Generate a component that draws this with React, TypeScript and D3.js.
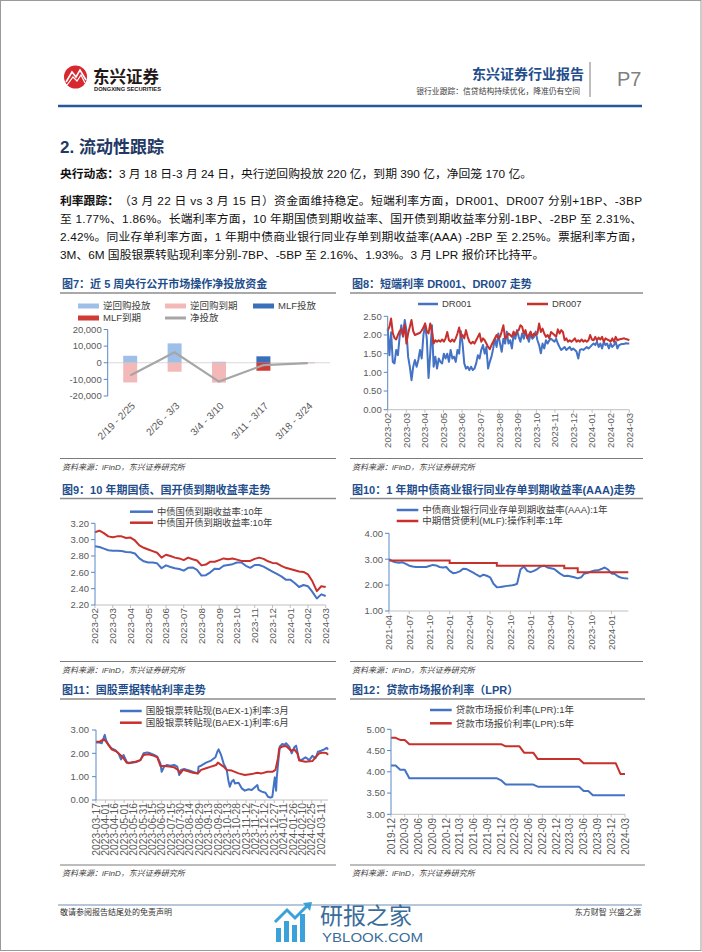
import React from "react";
import * as d3 from "d3";

const FONT = "'Liberation Sans','Noto Sans CJK SC',Arial,sans-serif";
const BLUE = "#4472c4";
const RED = "#c8302c";
const AXIS_BLUE = "#5b87c6";
const TICK = "#595959";
const TITLE_BLUE = "#1f4e8c";

// ---------- Chart 7: weekly open market operations (亿元)
const weekCats = ["2/19 - 2/25", "2/26 - 3/3", "3/4 - 3/10", "3/11 - 3/17", "3/18 - 3/24"];
const repoInject = [4190, 11650, 600, 100, 220];
const repoMature = [-11850, -5400, -11950, -600, -390];
const mlfInject = [0, 0, 0, 3870, 0];
const mlfMature = [0, 0, 0, -4810, 0];
const netInject = [-7660, 6250, -11350, -1440, -170];
const ticks7 = [-20000, -10000, 0, 10000, 20000];

// ---------- Chart 8: DR001 / DR007 (11 samples per month, 2023-02 .. 2024-02)
const monthLabels13 = ["2023-02", "2023-03", "2023-04", "2023-05", "2023-06", "2023-07", "2023-08", "2023-09", "2023-10", "2023-11", "2023-12", "2024-01", "2024-02", "2024-03"];
const dr001 = [
  2.17, 1.46, 2.07, 1.28, 1.24, 1.6, 1.46, 1.95, 2.26, 1.95, 2.4,
  2.13, 1.42, 1.15, 0.79, 1.15, 1.33, 1.15, 1.33, 1.6, 1.37, 2.0,
  2.26, 1.9, 0.85, 1.5, 2.26, 1.15, 1.42, 1.1, 1.37, 1.28, 1.24,
  1.5, 1.37, 1.5, 1.28, 1.6, 1.37, 1.42, 1.28, 1.6, 1.5, 2.1,
  1.77, 1.24, 1.1, 1.15, 1.06, 1.15, 1.06, 1.1, 1.24, 1.46, 1.37,
  1.6, 1.73, 1.5, 1.68, 1.1, 1.28, 1.42, 1.64, 1.9, 1.68, 2.04,
  1.77, 1.55, 1.9, 1.77, 2.09, 1.77, 1.86, 1.64, 2.0, 1.9, 2.13,
  1.95, 1.82, 2.04, 1.9, 2.09, 1.95, 1.82, 2.04, 1.9, 1.95, 2.09,
  1.86, 1.73, 1.51, 1.77, 1.64, 1.86, 1.77, 1.86, 1.9, 1.86, 1.82,
  1.9, 1.77, 1.68, 1.6, 1.64, 1.68, 1.6, 1.64, 1.68, 1.6, 1.64,
  1.6, 1.55, 1.37, 1.6, 1.62, 1.6, 1.64, 1.68, 1.64, 1.68, 1.73,
  1.77, 1.73, 1.82, 1.68, 1.77, 1.64, 1.82, 1.73, 1.77, 1.64, 1.77,
  1.68, 1.73, 1.82, 1.64, 1.73, 1.75, 1.76, 1.76, 1.78, 1.77, 1.77,
];
const dr007 = [
  2.12, 2.22, 2.44, 2.05, 1.92, 1.88, 2.0, 2.1, 2.15, 1.98, 2.28,
  1.77, 2.04, 2.22, 2.4, 2.1, 2.0, 2.02, 2.04, 2.06, 2.12, 2.2,
  2.31, 2.1, 2.04, 2.31, 2.1, 1.77, 1.86, 1.82, 1.86, 1.82, 1.88,
  1.82, 1.91, 2.08, 1.86, 1.82, 1.88, 1.82, 1.91, 2.04, 2.2, 1.95,
  2.0, 1.91, 2.13, 1.95, 1.82, 1.77, 1.82, 1.77, 1.86, 1.95, 2.04,
  1.82, 1.91, 1.86, 1.77, 1.68, 1.62, 1.73, 1.82, 1.91, 2.0, 1.91,
  1.95, 2.09, 2.26, 1.91, 1.95, 2.04, 2.0, 1.95, 2.09, 2.0, 2.09,
  2.13, 2.26, 2.22, 2.04, 2.13, 1.91, 2.0, 2.09, 1.95, 2.04, 2.0,
  2.04, 2.31, 2.08, 2.17, 2.04, 1.95, 2.0, 1.91, 2.08, 2.04, 2.0,
  1.95, 2.15, 2.04, 2.13, 2.08, 1.86, 1.91, 1.82, 1.86, 1.82, 1.86,
  1.91, 1.82, 1.86, 1.82, 1.88, 1.82, 1.86, 1.82, 1.86, 2.0, 1.88,
  1.86, 1.95, 1.86, 1.93, 1.88, 1.95, 1.82, 1.91, 1.88, 1.86, 1.82,
  1.91, 1.82, 1.95, 1.86, 1.88, 1.89, 1.9, 1.91, 1.89, 1.88, 1.86,
];
const ticks8 = [0, 0.5, 1, 1.5, 2, 2.5];

// ---------- Chart 9: 10Y yields (weekly samples)
const gov10y = [2.92, 2.91, 2.89, 2.87, 2.865, 2.865, 2.86, 2.85, 2.845, 2.83, 2.77, 2.735, 2.72, 2.72, 2.71, 2.65, 2.685, 2.665, 2.65, 2.64, 2.62, 2.655, 2.66, 2.63, 2.56, 2.565, 2.6, 2.645, 2.64, 2.68, 2.69, 2.7, 2.72, 2.72, 2.68, 2.655, 2.69, 2.69, 2.67, 2.64, 2.61, 2.58, 2.55, 2.51, 2.51, 2.47, 2.42, 2.445, 2.43, 2.36, 2.28, 2.33, 2.31];
const cdb10y = [3.09, 3.11, 3.08, 3.04, 3.03, 3.04, 3.04, 3.02, 3.025, 2.99, 2.93, 2.9, 2.88, 2.86, 2.84, 2.78, 2.815, 2.8, 2.78, 2.77, 2.75, 2.78, 2.76, 2.745, 2.685, 2.695, 2.73, 2.73, 2.75, 2.77, 2.76, 2.77, 2.755, 2.74, 2.74, 2.74, 2.765, 2.78, 2.765, 2.735, 2.715, 2.71, 2.68, 2.655, 2.64, 2.625, 2.61, 2.605, 2.575, 2.49, 2.37, 2.43, 2.42];
const ticks9 = [2.2, 2.4, 2.6, 2.8, 3.0, 3.2];

// ---------- Chart 10: NCD AAA 1Y (half-month samples from 2021-04) and MLF rate changes
const ncdAAA = [3.0, 2.92, 2.88, 2.86, 2.88, 2.82, 2.75, 2.72, 2.7, 2.7, 2.7, 2.7, 2.74, 2.78, 2.76, 2.7, 2.68, 2.7, 2.55, 2.46, 2.48, 2.53, 2.63, 2.62, 2.55, 2.48, 2.4, 2.33, 2.4, 2.36, 2.3, 2.05, 1.92, 1.93, 1.95, 1.97, 1.98, 2.0, 2.05, 2.6, 2.72, 2.55, 2.5, 2.55, 2.62, 2.72, 2.75, 2.68, 2.65, 2.62, 2.52, 2.42, 2.35, 2.36, 2.33, 2.3, 2.26, 2.3, 2.45, 2.47, 2.53, 2.56, 2.57, 2.62, 2.68, 2.6, 2.45, 2.43, 2.33, 2.28, 2.26, 2.25];
const mlfChanges = [
  { m: "2021-04", v: 2.95 },
  { m: "2022-01", v: 2.85 },
  { m: "2022-08", v: 2.75 },
  { m: "2023-06", v: 2.65 },
  { m: "2023-08", v: 2.5 },
];
const quarterLabels10 = ["2021-04", "2021-07", "2021-10", "2022-01", "2022-04", "2022-07", "2022-10", "2023-01", "2023-04", "2023-07", "2023-10", "2024-01"];
const ticks10 = [1, 2, 3, 4];

// ---------- Chart 11: BAEX-1 bill rediscount rates
const bill3m = [
  ["2023-03-17", 2.46], ["2023-03-23", 2.46], ["2023-03-26", 2.43], ["2023-03-29", 2.64], ["2023-03-31", 2.79], ["2023-04-02", 2.57], ["2023-04-06", 2.36], ["2023-04-11", 2.21], ["2023-04-17", 2.14], ["2023-04-22", 2.0], ["2023-04-26", 1.74], ["2023-04-30", 1.93], ["2023-05-05", 1.64], ["2023-05-08", 1.57], ["2023-05-16", 1.61], ["2023-05-22", 1.64], ["2023-05-27", 1.71], ["2023-06-01", 2.0], ["2023-06-07", 2.04], ["2023-06-12", 2.0], ["2023-06-18", 1.93], ["2023-06-23", 1.86], ["2023-06-28", 1.57], ["2023-06-30", 1.21], ["2023-07-04", 1.43], ["2023-07-08", 1.5], ["2023-07-14", 1.47], ["2023-07-20", 1.5], ["2023-07-25", 1.43], ["2023-07-28", 1.07], ["2023-07-31", 1.29], ["2023-08-05", 1.33], ["2023-08-10", 1.29], ["2023-08-16", 1.24], ["2023-08-21", 1.19], ["2023-08-27", 1.14], ["2023-08-28", 1.43], ["2023-09-01", 1.47], ["2023-09-09", 1.6], ["2023-09-17", 1.69], ["2023-09-24", 1.83], ["2023-09-27", 2.07], ["2023-09-29", 2.17], ["2023-10-03", 1.93], ["2023-10-07", 1.57], ["2023-10-12", 1.29], ["2023-10-15", 0.79], ["2023-10-17", 0.57], ["2023-10-20", 0.79], ["2023-10-23", 0.86], ["2023-10-25", 0.71], ["2023-10-31", 0.74], ["2023-11-05", 0.5], ["2023-11-10", 0.4], ["2023-11-16", 0.46], ["2023-11-21", 0.43], ["2023-11-27", 0.57], ["2023-11-30", 0.64], ["2023-12-02", 0.43], ["2023-12-07", 0.36], ["2023-12-13", 0.31], ["2023-12-17", 0.14], ["2023-12-21", 0.1], ["2023-12-24", 0.14], ["2023-12-27", 0.79], ["2023-12-28", 0.97], ["2023-12-30", 0.4], ["2023-12-31", 0.93], ["2024-01-03", 1.79], ["2024-01-05", 2.29], ["2024-01-09", 2.4], ["2024-01-12", 2.36], ["2024-01-15", 2.43], ["2024-01-20", 2.29], ["2024-01-24", 2.0], ["2024-01-28", 2.26], ["2024-01-31", 2.33], ["2024-02-02", 2.07], ["2024-02-05", 1.71], ["2024-02-10", 1.74], ["2024-02-15", 1.83], ["2024-02-21", 1.71], ["2024-02-26", 1.89], ["2024-03-02", 1.79], ["2024-03-06", 2.07], ["2024-03-11", 2.11], ["2024-03-16", 2.17], ["2024-03-20", 2.24], ["2024-03-22", 2.16],
];
const bill6m = [
  ["2023-03-17", 2.5], ["2023-03-23", 2.5], ["2023-03-29", 2.6], ["2023-04-01", 2.54], ["2023-04-06", 2.36], ["2023-04-11", 2.17], ["2023-04-19", 2.07], ["2023-04-25", 1.93], ["2023-04-30", 1.79], ["2023-05-05", 1.6], ["2023-05-11", 1.61], ["2023-05-19", 1.64], ["2023-05-27", 1.71], ["2023-06-01", 1.93], ["2023-06-09", 1.96], ["2023-06-18", 1.89], ["2023-06-23", 1.83], ["2023-06-28", 1.46], ["2023-07-04", 1.46], ["2023-07-12", 1.43], ["2023-07-20", 1.4], ["2023-07-26", 1.29], ["2023-07-30", 1.14], ["2023-08-03", 1.29], ["2023-08-10", 1.24], ["2023-08-19", 1.17], ["2023-08-27", 1.14], ["2023-09-01", 1.29], ["2023-09-09", 1.36], ["2023-09-17", 1.43], ["2023-09-25", 1.5], ["2023-09-28", 1.6], ["2023-10-07", 1.43], ["2023-10-12", 1.29], ["2023-10-20", 1.26], ["2023-10-31", 1.14], ["2023-11-10", 1.07], ["2023-11-21", 1.11], ["2023-11-30", 1.17], ["2023-12-07", 1.14], ["2023-12-16", 1.21], ["2023-12-24", 1.21], ["2023-12-29", 1.29], ["2024-01-02", 1.79], ["2024-01-04", 2.21], ["2024-01-09", 2.29], ["2024-01-15", 2.31], ["2024-01-23", 2.11], ["2024-01-28", 2.17], ["2024-02-02", 2.0], ["2024-02-05", 1.69], ["2024-02-15", 1.64], ["2024-02-26", 1.67], ["2024-03-03", 1.86], ["2024-03-08", 2.0], ["2024-03-16", 2.03], ["2024-03-20", 2.0], ["2024-03-22", 1.93],
];
const dayLabels11 = ["2023-03-17", "2023-04-01", "2023-04-16", "2023-05-01", "2023-05-16", "2023-05-31", "2023-06-15", "2023-06-30", "2023-07-15", "2023-07-30", "2023-08-14", "2023-08-29", "2023-09-13", "2023-09-28", "2023-10-13", "2023-10-28", "2023-11-12", "2023-11-27", "2023-12-12", "2023-12-27", "2024-01-11", "2024-01-26", "2024-02-10", "2024-02-25", "2024-03-11"];
const ticks11 = [0, 1, 2, 3];

// ---------- Chart 12: LPR monthly 2019-12 .. 2024-03
const lpr1y = [4.15, 4.15, 4.05, 4.05, 3.85, 3.85, 3.85, 3.85, 3.85, 3.85, 3.85, 3.85, 3.85, 3.85, 3.85, 3.85, 3.85, 3.85, 3.85, 3.85, 3.85, 3.85, 3.85, 3.85, 3.8, 3.7, 3.7, 3.7, 3.7, 3.7, 3.7, 3.7, 3.65, 3.65, 3.65, 3.65, 3.65, 3.65, 3.65, 3.65, 3.65, 3.65, 3.55, 3.55, 3.45, 3.45, 3.45, 3.45, 3.45, 3.45, 3.45, 3.45];
const lpr5y = [4.8, 4.8, 4.75, 4.75, 4.65, 4.65, 4.65, 4.65, 4.65, 4.65, 4.65, 4.65, 4.65, 4.65, 4.65, 4.65, 4.65, 4.65, 4.65, 4.65, 4.65, 4.65, 4.65, 4.65, 4.65, 4.6, 4.6, 4.6, 4.6, 4.45, 4.45, 4.45, 4.3, 4.3, 4.3, 4.3, 4.3, 4.3, 4.3, 4.3, 4.3, 4.3, 4.2, 4.2, 4.2, 4.2, 4.2, 4.2, 4.2, 4.2, 3.95, 3.95];
const quarterLabels12 = ["2019-12", "2020-03", "2020-06", "2020-09", "2020-12", "2021-03", "2021-06", "2021-09", "2021-12", "2022-03", "2022-06", "2022-09", "2022-12", "2023-03", "2023-06", "2023-09", "2023-12", "2024-03"];
const ticks12 = [3, 3.5, 4, 4.5, 5];

// ---------- helpers
const loc = d3.formatLocale({ decimal: ".", thousands: ",", grouping: [3], currency: ["", ""], minus: "-" });
const fmtComma = loc.format(",");
const fmt2 = loc.format(".2f");
const parseDay = d3.timeParse("%Y-%m-%d");
const monthIndex = (s: string) => {
  const [y, m] = s.split("-").map(Number);
  return y * 12 + (m - 1);
};

function YAxis({ x, y, ticks, fmt, fs = 9.5, off = 6 }: any) {
  const [r0, r1] = y.range();
  return (
    <g>
      <line x1={x} x2={x} y1={r0} y2={r1} stroke={AXIS_BLUE} strokeWidth={1} />
      {ticks.map((t: number) => (
        <g key={t}>
          <line x1={x - 4} x2={x} y1={y(t)} y2={y(t)} stroke={AXIS_BLUE} strokeWidth={1} />
          <text x={x - off} y={y(t)} dy="0.35em" textAnchor="end" fontSize={fs} fill={TICK}>{fmt(t)}</text>
        </g>
      ))}
    </g>
  );
}

function XAxisBottom({ x0, x1, y, xs }: any) {
  return (
    <g>
      <line x1={x0} x2={x1} y1={y} y2={y} stroke="#bfbfbf" strokeWidth={1} />
      {xs.map((xx: number, i: number) => (
        <line key={i} x1={xx} x2={xx} y1={y} y2={y + 3} stroke="#bfbfbf" strokeWidth={1} />
      ))}
    </g>
  );
}

function RotLabels({ xs, labels, y, fs, rot = -90, dx = 0 }: any) {
  return (
    <g>
      {labels.map((l: string, i: number) => (
        <text key={i} transform={`translate(${xs[i] + dx},${y}) rotate(${rot})`} textAnchor="end" dy="0.35em" fontSize={fs} fill={TICK}>{l}</text>
      ))}
    </g>
  );
}

function LegLine({ x, y, color, label, w = 21.5, sw = 2.5, fs = 9.5 }: any) {
  return (
    <g>
      <line x1={x} x2={x + w} y1={y} y2={y} stroke={color} strokeWidth={sw} />
      <text x={x + w + 4} y={y} dy="0.35em" fontSize={fs} fill="#404040">{label}</text>
    </g>
  );
}

function LegRect({ x, y, color, label, fs = 9.5 }: any) {
  return (
    <g>
      <rect x={x} y={y - 2.5} width={21} height={5} fill={color} />
      <text x={x + 25} y={y} dy="0.35em" fontSize={fs} fill="#404040">{label}</text>
    </g>
  );
}

function Panel({ x0, x1, titleY, title, srcY }: any) {
  return (
    <g>
      <text x={x0 + 2} y={titleY} fontSize={11} fontWeight="bold" fill={TITLE_BLUE}>{title}</text>
      <line x1={x0} x2={x1} y1={titleY + 5} y2={titleY + 5} stroke="#8c8c8c" strokeWidth={1.5} />
      <line x1={x0} x2={x1} y1={srcY} y2={srcY} stroke="#595959" strokeWidth={0.8} />
      <text x={x0 + 2} y={srcY + 11} fontSize={8} fontStyle="italic" fill="#404040">资料来源：iFinD，东兴证券研究所</text>
    </g>
  );
}

function Chart7() {
  const y = d3.scaleLinear().domain([-20000, 20000]).range([396, 329.5]);
  const x = d3.scaleBand().domain(weekCats).range([108, 330]).paddingInner(0.685).paddingOuter(0.3425);
  const bw = x.bandwidth();
  const cx = (i: number) => (x(weekCats[i]) as number) + bw / 2;
  const bars = (vals: number[], color: string) =>
    vals.map((v, i) => (
      <rect key={i} x={x(weekCats[i])} y={Math.min(y(0), y(v))} width={bw} height={Math.abs(y(v) - y(0))} fill={color} />
    ));
  const line = d3.line<number>().x((_, i) => cx(i)).y((v) => y(v));
  return (
    <g>
      <Panel x0={60} x1={336} titleY={288} title="图7：近 5 周央行公开市场操作净投放资金" srcY={458.5} />
      <LegRect x={78} y={306} color="#9dbfe8" label="逆回购投放" />
      <LegRect x={165} y={306} color="#f3b9b9" label="逆回购到期" />
      <LegRect x={253} y={306} color="#3b6fba" label="MLF投放" />
      <LegRect x={78} y={318} color="#d13b35" label="MLF到期" />
      <LegLine x={165} y={318} color="#a6a6a6" label="净投放" w={21} sw={3} />
      <line x1={108} x2={330} y1={y(0)} y2={y(0)} stroke="#d9d9d9" strokeWidth={1} />
      {bars(repoInject, "#9dbfe8")}
      {bars(repoMature, "#f3b9b9")}
      {bars(mlfInject, "#3b6fba")}
      {bars(mlfMature, "#d13b35")}
      <path d={line(netInject) as string} fill="none" stroke="#a6a6a6" strokeWidth={2.2} />
      <YAxis x={107.7} y={y} ticks={ticks7} fmt={fmtComma} fs={9.5} />
      <RotLabels xs={weekCats.map((_, i) => cx(i))} labels={weekCats} y={404} fs={10} rot={-45} dx={3} />
    </g>
  );
}

function IndexLineChart({ x0, x1, yTop, yBot, domainY, ticks, series, labels, labelFs, yAxisX, labelTop }: any) {
  const y = d3.scaleLinear().domain(domainY).range([yBot, yTop]);
  const n = series[0].values.length;
  const x = d3.scaleLinear().domain([0, n - 1]).range([x0, x1]);
  const line = d3.line<number>().x((_, i) => x(i)).y((v) => y(v));
  const lx = labels.map((_: string, k: number) => x((k * (n - 1)) / (labels.length - 1)));
  return (
    <g>
      <XAxisBottom x0={x0} x1={x1} y={yBot} xs={lx} />
      {series.map((s: any, i: number) => (
        <path key={i} d={line(s.values) as string} fill="none" stroke={s.color} strokeWidth={2} strokeLinejoin="round" />
      ))}
      <YAxis x={yAxisX} y={y} ticks={ticks} fmt={fmt2} />
      <RotLabels xs={lx} labels={labels} y={labelTop} fs={labelFs} />
    </g>
  );
}

function Chart8() {
  return (
    <g>
      <Panel x0={350} x1={643} titleY={288} title="图8：短端利率 DR001、DR007 走势" srcY={458.5} />
      <LegLine x={418} y={304} color={BLUE} label="DR001" w={20} />
      <LegLine x={527} y={304} color={RED} label="DR007" w={21} />
      <IndexLineChart x0={387.7} x1={629.3} yTop={316.3} yBot={409.7} domainY={[0, 2.5]} ticks={ticks8}
        series={[{ values: dr001, color: BLUE }, { values: dr007, color: RED }]}
        labels={monthLabels13} labelFs={9.5} yAxisX={387.7} labelTop={413} />
    </g>
  );
}

function Chart9() {
  return (
    <g>
      <Panel x0={60} x1={336} titleY={493.5} title="图9：10 年期国债、国开债到期收益率走势" srcY={661.5} />
      <LegLine x={130} y={511.7} color={BLUE} label="中债国债到期收益率:10年" w={23} fs={9.3} />
      <LegLine x={130} y={522.7} color={RED} label="中债国开债到期收益率:10年" w={23} fs={9.3} />
      <IndexLineChart x0={95} x1={325.7} yTop={523.3} yBot={605} domainY={[2.2, 3.2]} ticks={ticks9}
        series={[{ values: gov10y, color: BLUE }, { values: cdb10y, color: RED }]}
        labels={monthLabels13} labelFs={9.8} yAxisX={95} labelTop={608} />
    </g>
  );
}

function Chart10() {
  const y = d3.scaleLinear().domain([1, 4]).range([611, 533.3]);
  const endM = (ncdAAA.length - 1) / 2;
  const x = d3.scaleLinear().domain([0, endM]).range([389, 628.3]);
  const base = monthIndex(quarterLabels10[0]);
  const ncdLine = d3.line<number>().x((_, i) => x(i / 2)).y((v) => y(v));
  const mlfPts = [...mlfChanges.map((c) => [monthIndex(c.m) - base, c.v]), [endM, mlfChanges[mlfChanges.length - 1].v]];
  const mlfLine = d3.line<any>().x((d) => x(d[0])).y((d) => y(d[1])).curve(d3.curveStepAfter);
  const lx = quarterLabels10.map((q) => x(monthIndex(q) - base));
  return (
    <g>
      <Panel x0={350} x1={643} titleY={493.5} title="图10：1 年期中债商业银行同业存单到期收益率(AAA)走势" srcY={661.5} />
      <LegLine x={396.7} y={510} color={BLUE} label="中债商业银行同业存单到期收益率(AAA):1年" w={21.6} />
      <LegLine x={396.7} y={521} color={RED} label="中期借贷便利(MLF):操作利率:1年" w={21.6} />
      <XAxisBottom x0={389} x1={628.3} y={611} xs={lx} />
      <path d={ncdLine(ncdAAA) as string} fill="none" stroke={BLUE} strokeWidth={2} strokeLinejoin="round" />
      <path d={mlfLine(mlfPts) as string} fill="none" stroke={RED} strokeWidth={2} />
      <YAxis x={389} y={y} ticks={ticks10} fmt={fmt2} />
      <RotLabels xs={lx} labels={quarterLabels10} y={615} fs={9.5} />
    </g>
  );
}

function Chart11() {
  const y = d3.scaleLinear().domain([0, 3]).range([800, 730]);
  const x = d3.scaleTime().domain([parseDay("2023-03-17") as Date, parseDay("2024-03-22") as Date]).range([96, 328]);
  const line = d3.line<any>().x((d) => x(parseDay(d[0]) as Date)).y((d) => y(d[1]));
  const lx = dayLabels11.map((d) => x(parseDay(d) as Date));
  return (
    <g>
      <Panel x0={60} x1={336} titleY={694} title="图11：国股票据转帖利率走势" srcY={865} />
      <LegLine x={120} y={711} color={BLUE} label="国股银票转贴现(BAEX-1)利率:3月" w={21.7} />
      <LegLine x={120} y={722.7} color={RED} label="国股银票转贴现(BAEX-1)利率:6月" w={21.7} />
      <XAxisBottom x0={96} x1={328} y={800} xs={lx} />
      <path d={line(bill3m) as string} fill="none" stroke={BLUE} strokeWidth={2} strokeLinejoin="round" />
      <path d={line(bill6m) as string} fill="none" stroke={RED} strokeWidth={2} strokeLinejoin="round" />
      <YAxis x={96} y={y} ticks={ticks11} fmt={fmt2} off={7} />
      <RotLabels xs={lx} labels={dayLabels11} y={803} fs={10.3} />
    </g>
  );
}

function Chart12() {
  return (
    <g>
      <Panel x0={350} x1={645} titleY={694} title="图12：贷款市场报价利率（LPR）" srcY={865} />
      <LegLine x={430} y={710} color={BLUE} label="贷款市场报价利率(LPR):1年" w={21.7} />
      <LegLine x={430} y={723.3} color={RED} label="贷款市场报价利率(LPR):5年" w={21.7} />
      <IndexLineChart x0={391} x1={625} yTop={729.3} yBot={814.3} domainY={[3, 5]} ticks={ticks12}
        series={[{ values: lpr1y, color: BLUE }, { values: lpr5y, color: RED }]}
        labels={quarterLabels12} labelFs={10} yAxisX={391} labelTop={818} />
    </g>
  );
}

function Header() {
  return (
    <g>
      <circle cx={75.5} cy={77} r={11.5} fill="#d7282f" />
      <path d="M66,82 L72,72 L76,77 L80,70 L86,80" fill="none" stroke="#fff" strokeWidth={1.6} />
      <path d="M67,85 L73,77 L77,81 L81,75 L85,83" fill="none" stroke="#fff" strokeWidth={1.2} />
      <text x={93} y={82.5} fontSize={16.5} fontWeight="bold" fill="#231815">东兴证券</text>
      <text x={94} y={90.5} fontSize={5.2} fontWeight="bold" fill="#231815" textLength={67} lengthAdjust="spacingAndGlyphs">DONGXING SECURITIES</text>
      <text x={584} y={79} textAnchor="end" fontSize={14} fontWeight="bold" fill={TITLE_BLUE}>东兴证券行业报告</text>
      <text x={580} y={93.5} textAnchor="end" fontSize={7.8} fill="#404040">银行业跟踪：信贷结构持续优化，降准仍有空间</text>
      <line x1={590} x2={590} y1={62} y2={97} stroke="#7f7f7f" strokeWidth={1} />
      <text x={617} y={85.5} fontSize={20} fill="#808080">P7</text>
      <line x1={58} x2={642} y1={106} y2={106} stroke="#23599a" strokeWidth={2.5} />
    </g>
  );
}

function Body() {
  const fs = 11.8;
  return (
    <g fill="#111">
      <text x={60} y={153} fontSize={17} fontWeight="bold" fill="#1f3864">2.  流动性跟踪</text>
      <text x={60} y={177.5} fontSize={fs} fontWeight="bold">央行动态：</text>
      <text x={60 + fs * 5} y={177.5} fontSize={fs}>3 月 18 日-3 月 24 日，央行逆回购投放 220 亿，到期 390 亿，净回笼 170 亿。</text>
      <text x={60} y={204.5} fontSize={fs} fontWeight="bold">利率跟踪：</text>
      <text x={60 + fs * 5} y={204.5} fontSize={fs} textLength={582 - fs * 5} lengthAdjust="spacing">（3 月 22 日 vs 3 月 15 日）资金面维持稳定。短端利率方面，DR001、DR007 分别+1BP、-3BP</text>
      <text x={60} y={222.7} fontSize={fs} textLength={582} lengthAdjust="spacing">至 1.77%、1.86%。长端利率方面，10 年期国债到期收益率、国开债到期收益率分别-1BP、-2BP 至 2.31%、</text>
      <text x={60} y={240.9} fontSize={fs} textLength={582} lengthAdjust="spacing">2.42%。同业存单利率方面，1 年期中债商业银行同业存单到期收益率(AAA) -2BP 至 2.25%。票据利率方面，</text>
      <text x={60} y={259.1} fontSize={fs}>3M、6M 国股银票转贴现利率分别-7BP、-5BP 至 2.16%、1.93%。3 月 LPR 报价环比持平。</text>
    </g>
  );
}

function Footer() {
  return (
    <g>
      <line x1={58} x2={642} y1={905} y2={905} stroke="#6f8fb3" strokeWidth={1} />
      <text x={60} y={915} fontSize={8} fill="#333">敬请参阅报告结尾处的免责声明</text>
      <text x={641} y={915} fontSize={8} textAnchor="end" fill="#333">东方财智 兴盛之源</text>
      <g opacity={0.92}>
        <rect x={276} y={928} width={5} height={14} fill="#2a9ad8" />
        <rect x={284} y={921} width={5} height={21} fill="#2a9ad8" />
        <rect x={292} y={925} width={5} height={17} fill="#2a9ad8" />
        <rect x={300} y={914} width={5} height={28} fill="#2a9ad8" />
        <path d="M275,922 L287,910 L295,918 L309,904" fill="none" stroke="#2a9ad8" strokeWidth={3} />
        <path d="M303,903 L312,902 L310,911 Z" fill="#2a9ad8" />
        <text x={320} y={923.5} fontSize={23} fill="#2b5f93">研报之家</text>
        <text x={322} y={942} fontSize={13.5} fill="#2b5f93" textLength={101} lengthAdjust="spacingAndGlyphs">YBLOOK.COM</text>
      </g>
    </g>
  );
}

export default function App() {
  return (
    <svg width={702} height={952} viewBox="0 0 702 952" style={{ position: "absolute", left: 0, top: 0, background: "#fff" }} fontFamily={FONT}>
      <rect x={0} y={0} width={702} height={952} fill="#fff" />
      <rect x={0.5} y={0.5} width={700.5} height={950} fill="none" stroke="#9a9a9a" strokeWidth={1} />
      <Header />
      <Body />
      <Chart7 />
      <Chart8 />
      <Chart9 />
      <Chart10 />
      <Chart11 />
      <Chart12 />
      <Footer />
    </svg>
  );
}
